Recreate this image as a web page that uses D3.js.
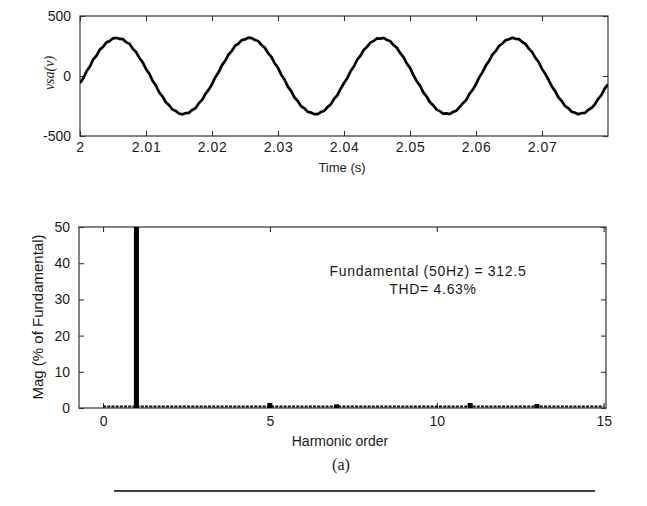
<!DOCTYPE html>
<html><head><meta charset="utf-8">
<script src="https://cdn.jsdelivr.net/npm/d3@7"></script>
<style>
body{margin:0;background:#fff;}
svg{display:block;}
text{font-family:Arial,"Liberation Sans",sans-serif;fill:#1a1a1a;}
</style></head>
<body><svg id="c" width="647" height="506"></svg>
<script>
// ---- Data ----
const tStart = 2.0, tStep = 0.0005;
const vsa = [
 -58,-20,41,79,138,170,219,243,280,291,314,318,309,307,282,268,227,200,150,114,58,19,-40,-80,-136,-170,-218,-243,-279,-291,-313,-320,-309,-307,-283,-268,-228,-200,-150,-114,
 -68,-10,31,89,126,179,208,252,270,299,305,320,316,300,291,259,236,191,160,105,68,9,-31,-89,-126,-179,-208,-252,-270,-299,-305,-318,-317,-300,-291,-259,-237,-191,-160,-106,
 -59,-18,40,80,136,169,218,243,279,292,313,311,318,300,291,258,236,192,159,106,67,10,-41,-79,-135,-170,-217,-243,-278,-292,-313,-311,-318,-300,-290,-259,-228,-201,-150,-115,
 -67,-9,32,88,127,178,209,251,271,298,306,319,310,308,283,267,228,200,151,115,59,18,-32,-88,-127,-178,-209,-251,-270,-298,-306,-319,-309,-308,-283,-267,-236,-192,-159,-105,
 -70
];
const timeTicks = [2, 2.01, 2.02, 2.03, 2.04, 2.05, 2.06, 2.07];
const vTicks = [-500, 0, 500];
const harmOrder = [1, 5, 7, 11, 13];
const harmMag = [100, 1.4, 1.0, 1.4, 1.1];
const hTicks = [0, 5, 10, 15];
const magTicks = [0, 10, 20, 30, 40, 50];
const annotation = ["Fundamental (50Hz) = 312.5", "THD= 4.63%"];

const svg = d3.select("#c");
const axisColor = "#333";
const fmtInt = d => String(d).replace("\u2212", "-");

function frame(g, x, y, xt, yt, xfmt, yfmt) {
  const [x0, x1] = x.range(), [y0, y1] = y.range();
  const tl = 5;
  g.append("rect").attr("x", x0).attr("y", y1).attr("width", x1 - x0).attr("height", y0 - y1)
    .attr("fill", "#fff").attr("stroke", axisColor).attr("stroke-width", 1.2);
  const bx = d3.axisBottom(x).tickValues(xt).tickSize(-tl).tickPadding(8).tickFormat(xfmt);
  const tx = d3.axisTop(x).tickValues(xt).tickSize(-tl).tickFormat("");
  const ly = d3.axisLeft(y).tickValues(yt).tickSize(-tl).tickPadding(9).tickFormat(yfmt);
  const ry = d3.axisRight(y).tickValues(yt).tickSize(-tl).tickFormat("");
  const a1 = g.append("g").attr("transform", `translate(0,${y0})`).call(bx);
  const a2 = g.append("g").attr("transform", `translate(0,${y1})`).call(tx);
  const a3 = g.append("g").attr("transform", `translate(${x0},0)`).call(ly);
  const a4 = g.append("g").attr("transform", `translate(${x1},0)`).call(ry);
  [a1, a2, a3, a4].forEach(a => {
    a.select(".domain").remove();
    a.selectAll("line").attr("stroke", axisColor).attr("stroke-width", 1.1);
    a.selectAll("text").style("font-size", "14px").style("font-family", "Arial,'Liberation Sans',sans-serif").attr("fill", "#1a1a1a");
  });
  return [a1, a3];
}

// ---- Top: time waveform ----
const x1 = d3.scaleLinear().domain([2, 2.08]).range([80, 608]);
const y1 = d3.scaleLinear().domain([-500, 500]).range([136, 16]);
const gTop = svg.append("g");
const [bTop] = frame(gTop, x1, y1, timeTicks, vTicks, d => (d === 2 ? "2" : d3.format(".2f")(d)), fmtInt);
bTop.selectAll("text").attr("dy", "0.55em").style("letter-spacing", "0.6px");
svg.append("clipPath").attr("id", "clipTop").append("rect")
  .attr("x", 80).attr("y", 16).attr("width", 528).attr("height", 120);
const line = d3.line().x((d, i) => x1(tStart + i * tStep)).y(d => y1(d));
gTop.append("path").datum(vsa).attr("d", line).attr("clip-path", "url(#clipTop)")
  .attr("fill", "none").attr("stroke", "#000").attr("stroke-width", 2.7).attr("stroke-linejoin", "miter");
gTop.append("text").attr("x", 342).attr("y", 172).attr("text-anchor", "middle").style("font-size", "13px").text("Time (s)");
gTop.append("text").attr("transform", "translate(54,73) rotate(-90)").attr("text-anchor", "middle")
  .style("font-family", "'Liberation Serif','Times New Roman',serif").style("font-style", "italic").style("font-size", "14px")
  .text("vsa(v)");

// ---- Bottom: harmonic spectrum ----
const x2 = d3.scaleLinear().domain([-0.72, 15.07]).range([79, 606]);
const y2 = d3.scaleLinear().domain([0, 50]).range([408, 227]);
const gBot = svg.append("g");
const [bBot] = frame(gBot, x2, y2, hTicks, magTicks, fmtInt, fmtInt);
svg.append("clipPath").attr("id", "clipBot").append("rect")
  .attr("x", 79).attr("y", 227).attr("width", 527).attr("height", 181);
// interharmonic floor (tiny bars rendered as dashed baseline)
gBot.append("line").attr("x1", x2(0)).attr("x2", x2(15)).attr("y1", y2(0) - 1.4).attr("y2", y2(0) - 1.4)
  .attr("stroke", "#111").attr("stroke-width", 2).attr("stroke-dasharray", "3,1.2");
const bw = x2(0.15) - x2(0);
gBot.append("g").attr("clip-path", "url(#clipBot)").selectAll("rect").data(harmOrder).join("rect")
  .attr("x", d => x2(d) - bw / 2).attr("width", bw)
  .attr("y", (d, i) => y2(harmMag[i])).attr("height", (d, i) => y2(0) - y2(harmMag[i]))
  .attr("fill", "#000");
gBot.append("text").attr("x", 340).attr("y", 446).attr("text-anchor", "middle").style("font-size", "14px").text("Harmonic order");
gBot.append("text").attr("transform", "translate(43,317) rotate(-90)").attr("text-anchor", "middle")
  .style("font-size", "15px").text("Mag (% of Fundamental)");
gBot.selectAll("text.ann").data(annotation).join("text").attr("class", "ann")
  .attr("x", (d, i) => i === 0 ? 428 : 433).attr("y", (d, i) => 276 + i * 18).attr("text-anchor", "middle")
  .style("font-size", "14px").style("letter-spacing", "0.7px").text(d => d);

// ---- Caption ----
svg.append("text").attr("x", 341).attr("y", 470).attr("text-anchor", "middle")
  .style("font-family", "'Liberation Serif','Times New Roman',serif").style("font-size", "16px").attr("fill", "#000").text("(a)");
svg.append("line").attr("x1", 114).attr("x2", 595).attr("y1", 491).attr("y2", 491)
  .attr("stroke", "#000").attr("stroke-width", 1.5);
</script></body></html>
